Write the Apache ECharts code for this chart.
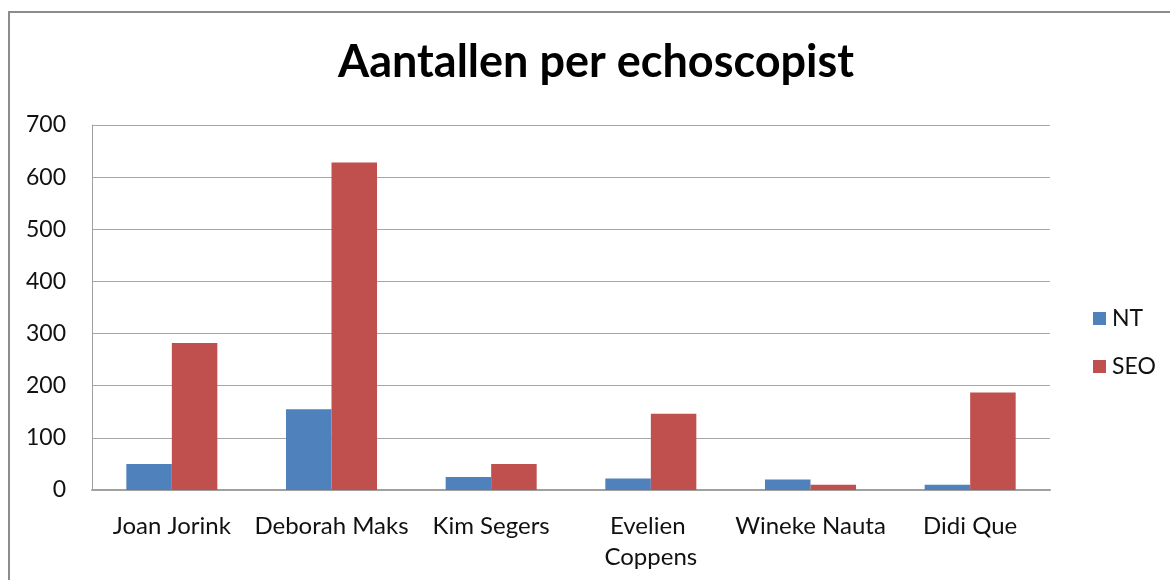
<!DOCTYPE html>
<html>
<head>
<meta charset="utf-8">
<script src="https://cdn.jsdelivr.net/npm/echarts@6/dist/echarts.min.js"></script>
<style>
html,body{margin:0;padding:0;background:#fff;}
#chart{width:1170px;height:580px;}
</style>
</head>
<body>
<div id="chart"></div>
<script>
var categories = ['Joan Jorink', 'Deborah Maks', 'Kim Segers', 'Evelien Coppens', 'Wineke Nauta', 'Didi Que'];
var seriesNames = ['NT', 'SEO'];
var ntValues = [50, 155, 25, 22, 20, 10];
var seoValues = [282, 628, 50, 146, 10, 187];
var yTicks = [0, 100, 200, 300, 400, 500, 600, 700];

var chart = echarts.init(document.getElementById('chart'));
var font = 'Lato, "Open Sans", sans-serif';
chart.setOption({
  animation: false,
  backgroundColor: '#ffffff',
  graphic: [{
    type: 'rect',
    shape: { x: 9, y: 12, width: 1200, height: 600 },
    style: { fill: 'none', stroke: '#8c8c8c', lineWidth: 2 },
    silent: true
  }],
  title: {
    text: 'Aantallen per echoscopist',
    left: 596,
    top: 40,
    textAlign: 'center',
    padding: 0,
    textStyle: { fontFamily: font, fontWeight: 'bold', fontSize: 45, color: '#000' }
  },
  legend: {
    orient: 'vertical',
    left: 1093,
    top: 307,
    padding: 0,
    itemWidth: 13,
    itemHeight: 13,
    itemGap: 25,
    icon: 'rect',
    data: seriesNames,
    textStyle: { fontFamily: font, fontSize: 23, color: '#111', padding: [0, 0, 0, 1] }
  },
  grid: { left: 92, right: 120, top: 125, bottom: 90, containLabel: false },
  xAxis: {
    type: 'category',
    data: categories,
    axisLine: { lineStyle: { color: '#a0a0a0', width: 2 } },
    axisTick: { show: false },
    axisLabel: {
      fontFamily: font, fontSize: 24, color: '#111', margin: 21,
      interval: 0, width: 165, overflow: 'break', lineHeight: 31
    }
  },
  yAxis: {
    type: 'value',
    min: yTicks[0],
    max: yTicks[yTicks.length - 1],
    interval: 100,
    axisLine: { show: true, lineStyle: { color: '#a0a0a0', width: 1 } },
    axisTick: { show: false },
    splitLine: { lineStyle: { color: '#a6a6a6', width: 1 } },
    axisLabel: { fontFamily: font, fontSize: 23, color: '#111', margin: 26 }
  },
  series: [
    { name: seriesNames[0], type: 'bar', data: ntValues, barGap: '0%', barCategoryGap: '43%', itemStyle: { color: '#4F81BD' } },
    { name: seriesNames[1], type: 'bar', data: seoValues, barGap: '0%', barCategoryGap: '43%', itemStyle: { color: '#C0504D' } }
  ]
});
</script>
</body>
</html>
